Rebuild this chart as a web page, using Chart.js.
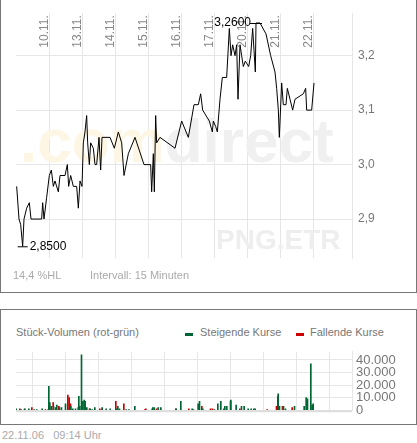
<!DOCTYPE html>
<html><head><meta charset="utf-8">
<script src="https://cdn.jsdelivr.net/npm/chart.js@4"></script>
<style>
body{margin:0;background:#fff;font-family:Arial,"Liberation Sans",sans-serif;}
#wrap{position:relative;width:417px;height:443px;overflow:hidden}
.box{position:absolute;border:1px solid #777;box-sizing:border-box}
.t{position:absolute;font-size:11px;color:#aaa;white-space:nowrap}
canvas{position:absolute}
</style></head><body>
<div id="wrap">
  <div class="box" style="left:0;top:-2px;width:417px;height:295px"></div>
  <canvas id="price" style="left:0;top:0"></canvas>
  <div class="t" style="left:13px;top:269px">14,4 %HL</div>
  <div class="t" style="left:90px;top:269px">Intervall: 15 Minuten</div>
  <div class="box" style="left:0;top:309px;width:417px;height:116px"></div>
  <div class="t" style="left:16px;top:326px;color:#777">Stück-Volumen (rot-grün)</div>
  <div style="position:absolute;left:185px;top:333px;width:8px;height:3px;background:#006633"></div>
  <div class="t" style="left:200px;top:326px;color:#777">Steigende Kurse</div>
  <div style="position:absolute;left:296px;top:333px;width:8px;height:3px;background:#cc0000"></div>
  <div class="t" style="left:310px;top:326px;color:#777">Fallende Kurse</div>
  <canvas id="vol" style="left:0;top:340px"></canvas>
  <div class="t" style="left:2px;top:429px">22.11.06&nbsp;&nbsp;&nbsp;09:14 Uhr</div>
</div>
<script>
// time axis: chart units, one trading day = 99 units, 10.11. starts at 148
const dayLabels = ["10.11.", "13.11.", "14.11.", "15.11.", "16.11.", "17.11.", "20.11.", "21.11.", "22.11."];
const dayStarts = [148, 247, 346, 445, 544, 643, 742, 841, 940];
const priceTicks = [2.9, 3.0, 3.1, 3.2];

const priceX = [50,57,62,68,72,80,88,93,125,128,132,140,148,154,160,165,175,180,195,202,206,212,220,230,235,240,246,250,255,260,263,268,272,280,285,290,297,302,306,330,343,355,365,372,385,405,432,452,455,460,463,467,470,480,525,545,565,582,595,602,608,628,637,640,647,652,660,667,680,688,693,698,705,710,714,720,725,730,736,746,752,758,762,766,768,780,798,812,825,830,835,838,845,850,858,862,870,878,885,910,917,920,935,942];
const priceY = [2.96,2.90,2.89,2.85,2.90,2.92,2.93,2.90,2.90,2.93,2.90,2.94,2.98,2.99,2.96,2.97,2.95,2.98,2.98,3.00,2.96,2.98,2.96,2.96,2.92,2.97,2.96,3.04,3.06,3.09,3.04,3.00,3.04,3.03,3.00,3.00,3.05,2.99,3.05,3.05,3.03,3.06,3.04,2.98,3.02,3.05,3.00,3.00,2.95,3.02,2.95,3.09,3.04,3.05,3.03,3.08,3.05,3.11,3.11,3.13,3.10,3.08,3.06,3.08,3.07,3.06,3.12,3.16,3.16,3.25,3.20,3.22,3.20,3.22,3.12,3.22,3.20,3.18,3.19,3.18,3.20,3.25,3.21,3.17,3.26,3.26,3.24,3.20,3.17,3.14,3.10,3.05,3.15,3.11,3.11,3.14,3.12,3.10,3.12,3.13,3.14,3.10,3.10,3.15];
const highPoint = { x: 768, y: 3.26, label: "3,2600" };
const lowPoint = { x: 68, y: 2.85, label: "2,8500" };

const volUpX = [50,65,76,88,104,112,128,146,148,151,155,162,168,172,180,186,198,214,220,228,238,241,246,250,254,257,262,272,278,286,308,320,332,350,355,360,380,388,406,460,464,476,484,530,544,578,582,596,600,610,645,655,664,676,682,694,710,726,734,746,755,763,767,836,840,852,858,885,914,920,924,934,938,941];
const volUp = [1000,500,1000,1000,500,300,1000,500,19000,6000,3000,3000,2000,4000,2000,2000,5000,3000,1000,1000,11000,3000,44000,7000,8000,7000,2000,1000,500,2000,2000,1000,1000,1000,3000,1000,500,500,3000,2000,2000,2000,2000,1000,7000,1000,500,5000,7000,1000,500,5000,7000,3000,3000,8000,4000,3000,3000,1000,1000,1000,1000,13000,3000,3000,1000,3000,3000,10000,9000,37000,4000,5000];
const volDownX = [58,72,94,135,158,175,202,206,210,233,267,298,305,346,370,433,436,455,468,526,565,604,630,636,670,690,718,800,828,832,846,875];
const volDown = [1000,800,2000,300,6000,3000,12000,10000,5000,2000,1000,1000,1000,7000,5000,500,1000,1000,1000,1000,1000,3000,1000,1000,1000,7000,1000,500,3000,11000,3000,2000];
const volTicks = [0, 10000, 20000, 30000, 40000];

const fmtDe = (v, d) => v.toFixed(d).replace(".", ",");
const grid = "#e6e6e6";
const xRange = { min: 48, max: 1056 };

function dayGridX() {
  return {
    type: "linear", min: xRange.min, max: xRange.max,
    afterBuildTicks: (ax) => { ax.ticks = dayStarts.map((v) => ({ value: v })); },
    ticks: { display: false },
    grid: { color: grid, drawTicks: false },
    border: { display: false },
  };
}

const overlay = {
  id: "overlay",
  beforeDatasetsDraw(chart) {
    const c = chart.ctx;
    c.save();
    c.font = "bold 62px Arial";
    c.textBaseline = "alphabetic";
    c.fillStyle = "#fef6e4";
    c.fillText(".com", 20, 162);
    const w = c.measureText(".com").width;
    c.fillStyle = "#f0f0f0";
    c.fillText("direct", 20 + w, 162);
    c.font = "bold 28px Arial";
    c.fillStyle = "#eeeeee";
    c.fillText("PNG.ETR", 216, 249);
    c.restore();
  },
  afterDatasetsDraw(chart) {
    const c = chart.ctx, xs = chart.scales.x, ys = chart.scales.y, a = chart.chartArea;
    c.save();
    // day labels, rotated
    c.font = "12px Arial";
    c.fillStyle = "#888";
    c.textAlign = "right";
    c.textBaseline = "middle";
    dayLabels.forEach((lab, i) => {
      c.save();
      c.translate(xs.getPixelForValue(dayStarts[i]) - 5, a.top + 2);
      c.rotate(-Math.PI / 2);
      c.fillText(lab, 0, 0);
      c.restore();
    });
    // high / low marks
    c.strokeStyle = "#000";
    c.fillStyle = "#000";
    c.font = "12px Arial";
    c.textBaseline = "middle";
    const hx = xs.getPixelForValue(highPoint.x), hy = ys.getPixelForValue(highPoint.y);
    c.beginPath(); c.moveTo(hx - 6, hy + 0.5); c.lineTo(hx + 6, hy + 0.5); c.stroke();
    c.textAlign = "right"; c.fillText(highPoint.label, hx - 5, hy);
    const lx = xs.getPixelForValue(lowPoint.x), ly = ys.getPixelForValue(lowPoint.y);
    c.beginPath(); c.moveTo(lx - 5, ly + 0.5); c.lineTo(lx + 5, ly + 0.5); c.stroke();
    c.textAlign = "left"; c.fillText(lowPoint.label, lx + 7, ly);
    c.restore();
  },
};

function setup(id, w, h) {
  const cv = document.getElementById(id);
  cv.width = w; cv.height = h;
  cv.style.width = w + "px"; cv.style.height = h + "px";
  return cv;
}

new Chart(setup("price", 417, 293), {
  type: "line",
  data: {
    datasets: [{
      data: priceX.map((x, i) => ({ x, y: priceY[i] })),
      borderColor: "#000", borderWidth: 1, pointRadius: 0, tension: 0,
    }],
  },
  options: {
    responsive: false, animation: false,
    layout: { padding: { left: 16, top: 10, bottom: 35, right: 0 } },
    plugins: { legend: { display: false }, tooltip: { enabled: false } },
    scales: {
      x: dayGridX(),
      y: {
        position: "right", min: 2.8285, max: 3.278,
        afterBuildTicks: (ax) => { ax.ticks = priceTicks.map((v) => ({ value: v })); },
        afterFit: (ax) => { ax.width = 65; },
        ticks: { autoSkip: false, color: "#777", font: { size: 12, family: "Arial" }, padding: 6, callback: (v) => fmtDe(v, 1) },
        grid: { color: grid, drawTicks: false },
        border: { color: grid },
      },
    },
  },
  plugins: [overlay],
});

const bottomLine = {
  id: "bottomLine",
  afterDraw(chart) {
    const c = chart.ctx, a = chart.chartArea;
    c.save(); c.strokeStyle = "#ddd"; c.lineWidth = 2;
    c.beginPath(); c.moveTo(a.left, a.bottom + 1); c.lineTo(a.right, a.bottom + 1); c.stroke();
    c.restore();
  },
};

new Chart(setup("vol", 417, 82), {
  type: "bar",
  data: {
    datasets: [
      { data: volUpX.map((x, i) => ({ x, y: volUp[i] })), backgroundColor: "#006633", barThickness: 1 },
      { data: volDownX.map((x, i) => ({ x, y: volDown[i] })), backgroundColor: "#cc0000", barThickness: 1 },
    ],
  },
  options: {
    responsive: false, animation: false,
    layout: { padding: { left: 16, top: 7, bottom: 9, right: 0 } },
    plugins: { legend: { display: false }, tooltip: { enabled: false } },
    scales: {
      x: Object.assign(dayGridX(), { stacked: false, offset: false }),
      y: {
        position: "right", min: 0, max: 46500,
        afterBuildTicks: (ax) => { ax.ticks = volTicks.map((v) => ({ value: v })); },
        afterFit: (ax) => { ax.width = 65; },
        ticks: { autoSkip: false, color: "#777", font: { size: 13, family: "Arial" }, padding: 4,
          callback: (v) => v.toLocaleString("de-DE") },
        grid: { color: grid, drawTicks: false },
        border: { color: grid },
      },
    },
  },
  plugins: [bottomLine],
});
</script>
</body></html>
